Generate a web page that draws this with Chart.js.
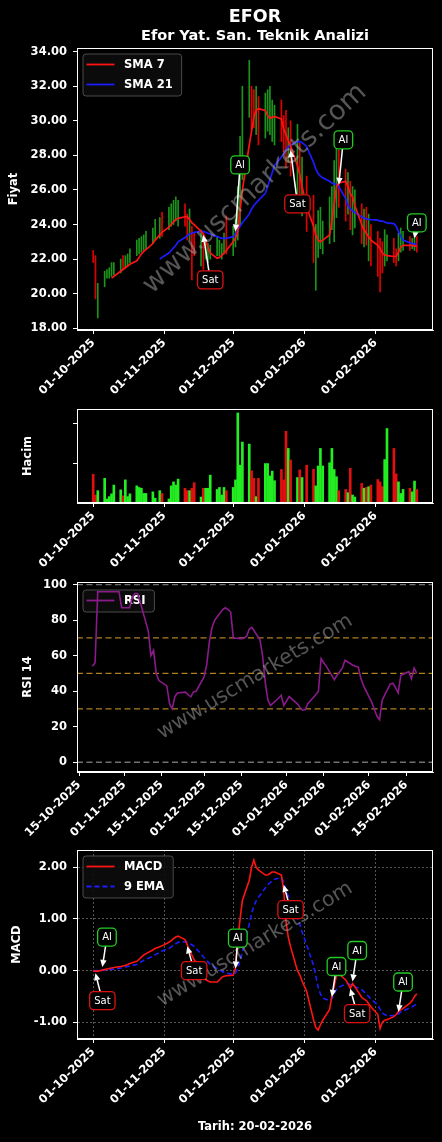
<!DOCTYPE html>
<html lang="tr">
<head>
<meta charset="utf-8">
<title>EFOR Teknik Analiz</title>
<script src="https://cdn.jsdelivr.net/npm/chart.js@4.4.1/dist/chart.umd.min.js"></script>
<style>
  html, body { margin: 0; padding: 0; background: #000; }
  body { width: 442px; height: 1142px; position: relative; overflow: hidden; }
  canvas { position: absolute; left: 0; }
</style>
</head>
<body>
<canvas id="grafikFiyat" width="442" height="400" style="top:0px"></canvas>
<canvas id="grafikHacim" width="442" height="175" style="top:400px"></canvas>
<canvas id="grafikRsi" width="442" height="270" style="top:575px"></canvas>
<canvas id="grafikMacd" width="442" height="297" style="top:845px"></canvas>
<script>
/* Veriler */
const tarihler = [
  '2025-10-01','2025-10-02','2025-10-03','2025-10-06','2025-10-07','2025-10-08','2025-10-09','2025-10-10','2025-10-13','2025-10-14',
  '2025-10-15','2025-10-16','2025-10-17','2025-10-20','2025-10-21','2025-10-22','2025-10-23','2025-10-24','2025-10-27','2025-10-28',
  '2025-10-30','2025-10-31','2025-11-03','2025-11-04','2025-11-05','2025-11-06','2025-11-07','2025-11-10','2025-11-11','2025-11-12',
  '2025-11-13','2025-11-14','2025-11-17','2025-11-18','2025-11-19','2025-11-20','2025-11-21','2025-11-24','2025-11-25','2025-11-26',
  '2025-11-27','2025-11-28','2025-12-01','2025-12-02','2025-12-03','2025-12-04','2025-12-05','2025-12-08','2025-12-09','2025-12-10',
  '2025-12-11','2025-12-12','2025-12-15','2025-12-16','2025-12-17','2025-12-18','2025-12-19','2025-12-22','2025-12-23','2025-12-24',
  '2025-12-25','2025-12-26','2025-12-29','2025-12-30','2025-12-31','2026-01-02','2026-01-05','2026-01-06','2026-01-07','2026-01-08',
  '2026-01-09','2026-01-12','2026-01-13','2026-01-14','2026-01-15','2026-01-16','2026-01-19','2026-01-20','2026-01-21','2026-01-22',
  '2026-01-23','2026-01-26','2026-01-27','2026-01-28','2026-01-29','2026-01-30','2026-02-02','2026-02-03','2026-02-04','2026-02-05',
  '2026-02-06','2026-02-09','2026-02-10','2026-02-11','2026-02-12','2026-02-13','2026-02-16','2026-02-17','2026-02-18','2026-02-19'
];

const yuksek = [
  22.5,22.2,20.6,21.3,21.4,21.5,21.8,21.8,22.0,22.2,
  22.2,22.3,22.6,23.1,23.2,23.3,23.4,23.6,23.8,24.3,
  24.4,24.7,25.0,25.2,25.4,25.6,25.4,25.2,24.6,24.9,
  23.9,23.5,23.7,23.5,23.1,22.9,22.8,23.3,23.1,22.9,
  23.5,24.5,23.9,24.3,26.2,29.1,32.0,33.5,32.0,31.8,
  32.0,31.4,31.6,31.8,32.0,31.2,30.9,31.2,30.3,30.6,
  29.6,30.0,29.8,28.7,27.9,26.8,25.7,24.0,24.8,25.0,
  24.2,25.6,26.2,27.7,28.8,28.3,27.2,27.0,26.5,26.2,
  26.0,25.2,24.9,25.0,24.6,24.0,23.6,23.2,23.0,23.7,
  23.4,23.2,22.6,23.5,23.8,23.6,23.3,23.2,23.5,23.3
];

const dusuk = [
  21.8,19.7,18.6,20.4,20.9,20.9,21.0,21.1,21.2,21.4,
  21.5,21.6,21.8,22.2,22.3,22.4,22.5,22.6,22.9,23.1,
  23.2,23.3,23.7,23.9,24.0,24.2,23.9,23.9,23.1,23.1,
  20.8,22.2,21.6,21.4,22.0,21.8,22.0,22.2,22.2,22.0,
  22.3,22.3,22.2,22.7,23.1,23.9,26.6,30.2,29.5,29.6,
  29.2,28.6,29.0,29.4,29.2,28.8,28.6,28.8,28.2,27.3,
  27.6,26.8,25.5,25.1,24.5,23.6,21.8,20.2,22.1,22.6,
  22.3,22.9,23.7,23.0,24.4,25.0,24.2,24.6,23.7,23.4,
  23.8,22.9,22.7,22.8,21.9,21.6,21.0,20.1,21.2,21.6,
  21.9,21.8,21.6,21.9,22.4,22.5,22.5,22.6,22.5,22.4
];

// 1 = yükseliş (yeşil), 0 = düşüş (kırmızı)
const yon = [
  0,0,1,1,1,1,1,1,1,0,
  1,1,1,1,1,1,1,1,1,1,
  1,0,1,1,1,1,1,0,0,1,
  0,0,1,0,1,1,1,1,1,1,
  1,0,1,1,1,1,1,1,0,0,
  1,0,1,1,1,1,1,0,0,0,
  1,0,1,0,1,0,0,1,1,1,
  1,1,1,1,1,0,0,1,0,1,
  1,0,1,0,1,0,0,0,0,1,
  1,0,0,1,1,1,0,1,1,0
];

// hacim (milyon)
const hacim = [
  7.2,2.0,3.1,6.2,1.0,1.6,2.3,4.5,3.3,1.8,
  5.8,1.6,2.3,4.3,3.9,3.7,2.4,2.4,2.8,1.2,
  3.1,2.4,1.0,4.3,5.3,4.5,6.0,3.7,3.1,3.1,
  3.7,5.1,1.5,3.7,3.7,3.7,7.0,3.4,3.9,2.0,
  3.9,3.1,3.9,5.8,22.6,9.5,15.3,14.8,8.1,6.2,
  1.6,6.2,9.9,9.9,6.8,8.0,5.6,8.4,5.8,18.0,
  13.7,10.8,6.4,8.3,6.4,9.5,8.5,4.3,9.3,13.7,
  9.3,10.1,13.7,8.4,6.6,3.1,3.4,2.6,8.7,2.0,
  1.5,4.9,3.7,3.9,4.1,4.5,5.9,5.3,4.1,10.9,
  18.7,13.7,7.3,5.3,2.4,3.4,3.7,2.8,5.5,3.4
];

const sma7 = [
  null,null,null,null,null,null,20.9,21.0,21.3,21.4,
  21.5,21.6,21.7,21.9,22.1,22.3,22.45,22.55,22.9,23.1,
  23.4,23.55,23.85,24.0,24.15,24.3,24.36,24.45,24.45,24.3,
  24.1,24.0,23.6,23.45,23.1,22.7,22.35,22.05,22.1,22.2,
  22.35,22.5,23.0,23.2,23.6,24.8,26.0,28.6,29.4,30.2,
  30.6,30.7,30.6,30.3,30.15,30.2,30.25,30.1,29.5,29.2,
  28.85,28.55,27.4,26.9,26.2,25.0,23.9,23.4,23.1,23.0,
  23.1,23.4,24.2,25.2,26.2,26.4,26.5,26.2,25.8,25.6,
  25.1,24.0,23.7,23.5,23.3,23.1,22.8,22.6,22.35,22.25,
  22.2,22.15,22.15,22.4,22.7,22.8,22.8,22.8,22.75,22.75
];

const sma21 = [
  null,null,null,null,null,null,null,null,null,null,
  null,null,null,null,null,null,null,null,null,null,
  22.0,22.1,22.35,22.5,22.65,22.8,23.0,23.25,23.35,23.45,
  23.5,23.55,23.6,23.6,23.55,23.5,23.45,23.3,23.25,23.2,
  23.2,23.2,23.3,23.45,23.7,23.9,24.1,24.6,24.9,25.1,
  25.25,25.4,25.8,26.2,26.6,27.0,27.4,27.9,28.1,28.3,
  28.5,28.6,28.8,28.8,28.75,28.5,27.6,27.2,26.95,26.8,
  26.7,26.5,26.4,26.35,26.3,26.2,25.5,25.1,24.9,24.8,
  24.7,24.45,24.36,24.33,24.3,24.28,24.25,24.2,24.2,24.15,
  24.1,24.05,23.9,23.6,23.3,23.1,22.95,22.9,22.88,22.85
];

const rsi = [
  null,null,null,null,null,null,null,null,null,null,
  null,null,null,54,56,96,96,96,96,96,
  96,87,87,93,95,95,90,74,60,63,
  50,46,43,33,30,37,39,39.5,38,36.8,
  39.6,40,48,55,68,76,80,86,87,86,
  84.6,70,69.6,70,71,75,76,69,60,45,
  35,32,36,37.7,32,37,33,31,29.3,29.5,
  33,38,40,58.3,56,54,46.5,49,51,53,
  57.4,54.6,54,53.5,47,43,34,30,26,24,
  35,44,44.5,42,39,49,51,47,53,50
];

const macd = [
  0.00,-0.01,-0.01,0.02,0.03,0.04,0.05,0.06,0.08,0.09,
  0.10,0.12,0.14,0.18,0.22,0.26,0.30,0.33,0.40,0.43,
  0.46,0.48,0.55,0.58,0.62,0.65,0.67,0.60,0.50,0.39,
  0.30,0.21,0.02,-0.08,-0.17,-0.20,-0.22,-0.22,-0.18,-0.13,
  -0.11,-0.10,-0.09,0.05,0.60,1.00,1.36,1.75,2.00,2.14,
  2.00,1.95,1.85,1.85,1.88,1.91,1.91,1.85,1.55,0.95,
  0.65,0.46,0.00,-0.08,-0.20,-0.40,-0.95,-1.10,-1.15,-1.05,
  -0.96,-0.75,-0.50,-0.30,-0.10,-0.06,-0.18,-0.25,-0.34,-0.25,
  -0.31,-0.52,-0.55,-0.58,-0.64,-0.70,-0.85,-1.12,-1.00,-0.96,
  -0.95,-0.89,-0.85,-0.79,-0.76,-0.73,-0.63,-0.58,-0.50,-0.45
];

const sinyal = [
  0.00,0.00,0.00,0.01,0.01,0.02,0.03,0.03,0.05,0.06,
  0.07,0.08,0.09,0.12,0.14,0.17,0.20,0.22,0.28,0.31,
  0.35,0.38,0.43,0.46,0.49,0.52,0.55,0.56,0.55,0.52,
  0.50,0.47,0.32,0.27,0.22,0.17,0.12,0.04,0.01,-0.01,
  -0.03,-0.05,-0.07,-0.05,0.05,0.20,0.35,0.90,1.10,1.25,
  1.35,1.42,1.60,1.66,1.70,1.74,1.77,1.80,1.72,1.55,
  1.45,1.30,1.00,0.90,0.75,0.50,0.10,-0.10,-0.32,-0.45,
  -0.53,-0.58,-0.54,-0.45,-0.36,-0.32,-0.26,-0.25,-0.27,-0.28,
  -0.31,-0.37,-0.41,-0.45,-0.50,-0.55,-0.66,-0.75,-0.82,-0.85,
  -0.87,-0.87,-0.86,-0.84,-0.80,-0.78,-0.72,-0.70,-0.67,-0.64
];

// Al/Sat işaretleri: [etiket, hedef tarih, hedef değer, yazı tarihi, yazı değeri]
const fiyatSinyalleri = [
  ['Sat', '2025-11-18', 23.4, '2025-11-21', 20.8],
  ['Al',  '2025-12-02', 23.6, '2025-12-04', 27.45],
  ['Sat', '2025-12-26', 28.3, '2025-12-29', 25.2],
  ['Al',  '2026-01-16', 26.3, '2026-01-18', 28.9],
  ['Al',  '2026-02-18', 23.2, '2026-02-19', 24.1]
];
const macdSinyalleri = [
  ['Sat', '2025-10-02', -0.05, '2025-10-05', -0.58],
  ['Al',  '2025-10-05', 0.07, '2025-10-07', 0.65],
  ['Sat', '2025-11-11', 0.47, '2025-11-14', 0.0],
  ['Al',  '2025-12-02', 0.04, '2025-12-03', 0.63],
  ['Sat', '2025-12-23', 1.66, '2025-12-26', 1.18],
  ['Al',  '2026-01-13', -0.51, '2026-01-15', 0.08],
  ['Al',  '2026-01-22', -0.21, '2026-01-24', 0.39],
  ['Sat', '2026-01-21', -0.35, '2026-01-24', -0.83],
  ['Al',  '2026-02-11', -0.80, '2026-02-13', -0.22]
];

const ayTikleri = ['2025-10-01','2025-11-01','2025-12-01','2026-01-01','2026-02-01'];
const rsiTikleri = ['2025-10-15','2025-11-01','2025-11-15','2025-12-01','2025-12-15','2026-01-01','2026-01-15','2026-02-01','2026-02-15'];
const fiyatTikleri = [18, 20, 22, 24, 26, 28, 30, 32, 34];
const hacimTikleri = [10, 20];
const rsiTikDegerleri = [0, 20, 40, 60, 80, 100];
const macdTikleri = [-1, 0, 1, 2];
const rsiSeviyeleri = [70, 50, 30];
const rsiSinirlari = [0, 100];
const raporTarihi = '20-02-2026';

/* Yardımcılar */
const GUN_MS = 86400000;
const BASLANGIC = Date.UTC(2025, 9, 1);
const gunNo = t => Math.round((Date.parse(t + 'T00:00:00Z') - BASLANGIC) / GUN_MS);
const iki = n => String(n).padStart(2, '0');
function tarihYaz(g) {
  const t = new Date(BASLANGIC + g * GUN_MS);
  return iki(t.getUTCDate()) + '-' + iki(t.getUTCMonth() + 1) + '-' + t.getUTCFullYear();
}
const noktalar = dizi => tarihler.map((t, i) => ({ x: gunNo(t), y: dizi[i] }));

Chart.defaults.font.family = '"DejaVu Sans", sans-serif';
Chart.defaults.color = '#ffffff';

const YAZI = { family: '"DejaVu Sans"', size: 11.5, weight: 'bold' };

function yuvarlakKutu(ctx, x, y, w, h, r) {
  ctx.beginPath();
  ctx.moveTo(x + r, y);
  ctx.arcTo(x + w, y, x + w, y + h, r);
  ctx.arcTo(x + w, y + h, x, y + h, r);
  ctx.arcTo(x, y + h, x, y, r);
  ctx.arcTo(x, y, x + w, y, r);
  ctx.closePath();
}

function xEkseni(tikler, min, max, yukseklik, izgara, baslik) {
  return {
    type: 'linear', min, max, offset: false,
    afterBuildTicks: ax => { ax.ticks = tikler.map(t => ({ value: gunNo(t) })); },
    afterFit: ax => { ax.height = yukseklik; ax.paddingLeft = 0; ax.paddingRight = 0; },
    ticks: { color: '#fff', font: YAZI, minRotation: 45, maxRotation: 45, autoSkip: false, padding: 2,
             callback: v => tarihYaz(v) },
    grid: { display: true, drawOnChartArea: izgara, offset: false, color: '#6a6a6a', lineWidth: 0.8,
            tickColor: '#fff', tickLength: 4, tickWidth: 1 },
    border: { display: true, color: '#fff', dash: izgara ? [2, 2] : [] },
    title: baslik ? { display: true, text: baslik, color: '#fff', font: YAZI, padding: { top: 4, bottom: 8.5 } }
                  : { display: false }
  };
}

function yEkseni(min, max, tikler, bicim, baslik, baslikBosluk, izgara) {
  return {
    type: 'linear', min, max,
    afterBuildTicks: ax => { ax.ticks = tikler.map(v => ({ value: v })); },
    afterFit: ax => { ax.width = 77; ax.paddingTop = 0; ax.paddingBottom = 0; },
    ticks: { color: '#fff', font: YAZI, padding: 6, callback: bicim },
    grid: { display: true, drawOnChartArea: izgara, color: '#6a6a6a', lineWidth: 0.8,
            tickColor: '#fff', tickLength: 4, tickWidth: 1 },
    border: { display: true, color: '#fff', dash: izgara ? [2, 2] : [] },
    title: { display: true, text: baslik, color: '#fff', font: YAZI, padding: { top: baslikBosluk, bottom: 0 } }
  };
}

/* Seviye çizgileri ve lejant (çizgilerin altında), filigran, Al/Sat okları ve çerçeve (üstte) */
const panelEklentisi = {
  id: 'panel',
  beforeDatasetsDraw(chart, args, o) {
    const { ctx, chartArea: a, scales: { y } } = chart;
    (o.seviyeler || []).forEach(s => {
      const py = y.getPixelForValue(s.deger);
      ctx.save();
      ctx.strokeStyle = s.renk;
      ctx.lineWidth = 1.3;
      ctx.setLineDash([6, 3.5]);
      ctx.beginPath();
      ctx.moveTo(a.left, py);
      ctx.lineTo(a.right, py);
      ctx.stroke();
      ctx.restore();
    });

    if (o.lejant) {
      const kalemler = chart.data.datasets.filter(d => d.type === 'line');
      ctx.save();
      ctx.font = 'bold 11.5px "DejaVu Sans"';
      const gen = Math.max(...kalemler.map(d => ctx.measureText(d.label).width));
      const bx = a.left + 6, by = a.top + (o.lejantUst || 6);
      const bw = 41 + gen + 9, bh = 22 + 20 * (kalemler.length - 1);
      yuvarlakKutu(ctx, bx, by, bw, bh, 3);
      ctx.fillStyle = 'rgba(12,12,12,0.9)';
      ctx.fill();
      ctx.strokeStyle = '#4a4a4a';
      ctx.lineWidth = 1;
      ctx.stroke();
      kalemler.forEach((d, i) => {
        const yy = by + 10.5 + 20 * i;
        ctx.strokeStyle = d.borderColor;
        ctx.lineWidth = 1.8;
        ctx.setLineDash(d.borderDash || []);
        ctx.beginPath();
        ctx.moveTo(bx + 3.5, yy);
        ctx.lineTo(bx + 31.5, yy);
        ctx.stroke();
        ctx.setLineDash([]);
        ctx.fillStyle = '#fff';
        ctx.textAlign = 'left';
        ctx.textBaseline = 'middle';
        ctx.fillText(d.label, bx + 41, yy + 0.5);
      });
      ctx.restore();
    }
  },
  afterDatasetsDraw(chart, args, o) {
    const { ctx, chartArea: a, scales: { x, y } } = chart;

    if (o.filigran) {
      ctx.save();
      ctx.beginPath();
      ctx.rect(a.left, a.top, a.right - a.left, a.bottom - a.top);
      ctx.clip();
      ctx.translate((a.left + a.right) / 2, (a.top + a.bottom) / 2);
      ctx.rotate(-o.filigran.aci * Math.PI / 180);
      ctx.font = o.filigran.boyut + 'px "DejaVu Sans"';
      ctx.fillStyle = 'rgba(170,170,170,0.5)';
      ctx.textAlign = 'center';
      ctx.textBaseline = 'middle';
      ctx.fillText('www.uscmarkets.com', 0, 0);
      ctx.restore();
    }

    (o.sinyaller || []).forEach(([etiket, hT, hD, mT, mD]) => {
      const hx = x.getPixelForValue(gunNo(hT)), hy = y.getPixelForValue(hD);
      const mx = x.getPixelForValue(gunNo(mT)), my = y.getPixelForValue(mD);
      ctx.save();
      ctx.font = '10px "DejaVu Sans"';
      const w = ctx.measureText(etiket).width + 9, h = 18;
      const dx = hx - mx, dy = hy - my;
      const t = Math.min((w / 2) / Math.max(Math.abs(dx), 1e-6), (h / 2) / Math.max(Math.abs(dy), 1e-6));
      const sx = mx + dx * t, sy = my + dy * t;
      const L = Math.hypot(hx - sx, hy - sy);
      if (L > 1 && t < 1) {
        const ux = (hx - sx) / L, uy = (hy - sy) / L;
        const bas = Math.min(7, L);
        const bx = hx - ux * bas, by = hy - uy * bas;
        ctx.strokeStyle = '#fff';
        ctx.fillStyle = '#fff';
        ctx.lineWidth = 1.5;
        ctx.beginPath();
        ctx.moveTo(sx, sy);
        ctx.lineTo(bx, by);
        ctx.stroke();
        ctx.beginPath();
        ctx.moveTo(hx, hy);
        ctx.lineTo(bx - uy * 3.2, by + ux * 3.2);
        ctx.lineTo(bx + uy * 3.2, by - ux * 3.2);
        ctx.closePath();
        ctx.fill();
      }
      yuvarlakKutu(ctx, mx - w / 2, my - h / 2, w, h, 4);
      ctx.fillStyle = '#000';
      ctx.fill();
      ctx.lineWidth = 1.3;
      ctx.strokeStyle = etiket === 'Al' ? '#22cc22' : '#dd1111';
      ctx.stroke();
      ctx.fillStyle = '#fff';
      ctx.textAlign = 'center';
      ctx.textBaseline = 'middle';
      ctx.fillText(etiket, mx, my + 0.5);
      ctx.restore();
    });

    ctx.save();
    ctx.strokeStyle = '#fff';
    ctx.lineWidth = 1;
    ctx.strokeRect(Math.round(a.left) + 0.5, Math.round(a.top) + 0.5,
                   Math.round(a.right - a.left) - 1, Math.round(a.bottom - a.top) - 1);
    ctx.restore();
  }
};

const ortakSecenekler = {
  responsive: false,
  animation: false,
  devicePixelRatio: 1,
  events: []
};

/* Fiyat paneli */
new Chart(document.getElementById('grafikFiyat'), {
  type: 'bar',
  data: {
    datasets: [
      { type: 'line', label: 'SMA 7', data: noktalar(sma7), borderColor: '#ff1414', borderWidth: 1.7,
        pointRadius: 0, order: 0 },
      { type: 'line', label: 'SMA 21', data: noktalar(sma21), borderColor: '#1c1cff', borderWidth: 1.7,
        pointRadius: 0, order: 1 },
      { type: 'bar', label: 'Fiyat', order: 2, barThickness: 1,
        data: tarihler.map((t, i) => ({ x: gunNo(t), y: [dusuk[i], yuksek[i]] })),
        backgroundColor: yon.map(v => v ? '#1c941c' : '#e00000') }
    ]
  },
  options: {
    ...ortakSecenekler,
    layout: { padding: { top: 0, right: 9, bottom: 0, left: 0 } },
    scales: {
      x: xEkseni(ayTikleri, -7.05, 148.05, 70, false),
      y: yEkseni(17.9, 34.21, fiyatTikleri, v => v.toFixed(2), 'Fiyat', 7.1, false)
    },
    plugins: {
      legend: { display: false },
      tooltip: { enabled: false },
      title: { display: true, text: 'EFOR', fullSize: false, color: '#fff',
               font: { size: 17.5, weight: 'bold' }, padding: { top: 6.5, bottom: 0 } },
      subtitle: { display: true, text: 'Efor Yat. San. Teknik Analizi', fullSize: false, color: '#fff',
                  font: { size: 14.5, weight: 'bold' }, padding: { top: 0, bottom: 3.1 } },
      panel: { filigran: { aci: 43, boyut: 27 }, sinyaller: fiyatSinyalleri, lejant: true }
    }
  },
  plugins: [panelEklentisi]
});

/* Hacim paneli */
new Chart(document.getElementById('grafikHacim'), {
  type: 'bar',
  data: {
    datasets: [
      { label: 'Hacim', barThickness: 2,
        data: tarihler.map((t, i) => ({ x: gunNo(t), y: hacim[i] })),
        backgroundColor: yon.map(v => v ? '#22ee22' : '#e01010') }
    ]
  },
  options: {
    ...ortakSecenekler,
    layout: { padding: { top: 9, right: 9, bottom: 0, left: 0 } },
    scales: {
      x: xEkseni(ayTikleri, -7.05, 148.05, 72, false),
      y: yEkseni(0, 23.6, hacimTikleri, () => '', 'Hacim', 21, false)
    },
    plugins: { legend: { display: false }, tooltip: { enabled: false }, panel: {} }
  },
  plugins: [panelEklentisi]
});

/* RSI paneli */
new Chart(document.getElementById('grafikRsi'), {
  type: 'line',
  data: {
    datasets: [
      { type: 'line', label: 'RSI', data: noktalar(rsi), borderColor: '#8b1a8b', borderWidth: 1.6, pointRadius: 0 }
    ]
  },
  options: {
    ...ortakSecenekler,
    layout: { padding: { top: 7, right: 9, bottom: 0, left: 0 } },
    scales: {
      x: xEkseni(rsiTikleri, 13.2, 147.1, 73, false),
      y: yEkseni(-5.5, 101.5, rsiTikDegerleri, v => String(v), 'RSI 14', 21, false)
    },
    plugins: {
      legend: { display: false },
      tooltip: { enabled: false },
      panel: {
        seviyeler: rsiSeviyeleri.map(v => ({ deger: v, renk: 'rgba(205,150,35,0.85)' }))
          .concat(rsiSinirlari.map(v => ({ deger: v, renk: 'rgba(140,140,140,0.8)' }))),
        filigran: { aci: 31, boyut: 20.5 },
        lejant: true,
        lejantUst: 8
      }
    }
  },
  plugins: [panelEklentisi]
});

/* MACD paneli */
new Chart(document.getElementById('grafikMacd'), {
  type: 'line',
  data: {
    datasets: [
      { type: 'line', label: 'MACD', data: noktalar(macd), borderColor: '#ff1414', borderWidth: 1.6, pointRadius: 0 },
      { type: 'line', label: '9 EMA', data: noktalar(sinyal), borderColor: '#1c1cff', borderWidth: 1.6,
        borderDash: [5, 3], pointRadius: 0 }
    ]
  },
  options: {
    ...ortakSecenekler,
    layout: { padding: { top: 5, right: 9, bottom: 0, left: 0 } },
    scales: {
      x: xEkseni(ayTikleri, -7.05, 148.05, 103, true, 'Tarih: ' + raporTarihi),
      y: yEkseni(-1.323, 2.335, macdTikleri, v => v.toFixed(2), 'MACD', 10.4, true)
    },
    plugins: {
      legend: { display: false },
      tooltip: { enabled: false },
      panel: { filigran: { aci: 31, boyut: 20.5 }, sinyaller: macdSinyalleri, lejant: true }
    }
  },
  plugins: [panelEklentisi]
});
</script>
</body>
</html>
